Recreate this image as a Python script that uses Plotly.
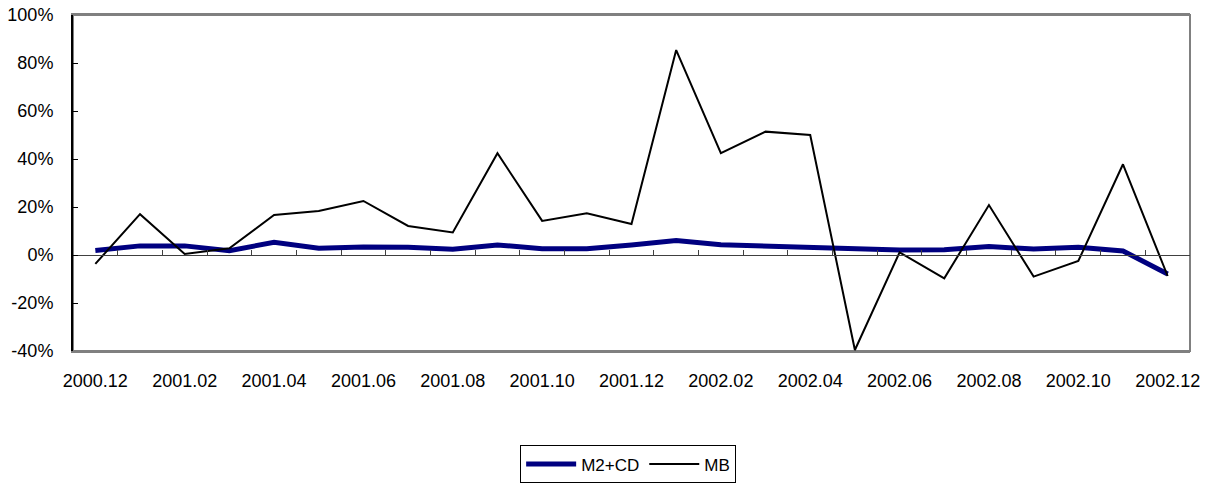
import plotly.graph_objects as go

months = ["2000.12", "2001.01", "2001.02", "2001.03", "2001.04", "2001.05", "2001.06",
          "2001.07", "2001.08", "2001.09", "2001.10", "2001.11", "2001.12",
          "2002.01", "2002.02", "2002.03", "2002.04", "2002.05", "2002.06",
          "2002.07", "2002.08", "2002.09", "2002.10", "2002.11", "2002.12"]
m2cd = [1.9, 3.8, 3.8, 1.8, 5.3, 2.8, 3.3, 3.2, 2.4, 4.2, 2.6, 2.6, 4.2,
        6.0, 4.3, 3.75, 2.8, 2.2, 2.1, 2.2, 3.5, 2.5, 3.2, 1.7, -7.9]
mb = [-3.7, 17.0, 0.4, 2.8, 16.7, 18.3, 22.5, 12.1, 9.4, 42.4, 14.2, 17.4, 12.9,
      85.4, 42.4, 51.4, 50.0, -39.6, 1.1, -9.7, 20.8, -9.0, -2.5, 37.8, -8.75]
tick_labels = months[::2]
y_ticks = [-40, -20, 0, 20, 40, 60, 80, 100]

font = "Liberation Sans, Arial, sans-serif"

fig = go.Figure()
fig.add_trace(go.Scatter(x=months, y=m2cd, name="M2+CD", mode="lines",
                         line=dict(color="#000080", width=5), xaxis="x", yaxis="y"))
fig.add_trace(go.Scatter(x=months, y=mb, name="MB", mode="lines",
                         line=dict(color="#000000", width=2), xaxis="x2", yaxis="y"))

fig.update_layout(
    width=1220, height=483,
    margin=dict(l=73, r=30, t=15, b=132),
    paper_bgcolor="white", plot_bgcolor="white",
    font=dict(family=font, size=18, color="black"),
    showlegend=True,
    legend=dict(orientation="h", x=0.497, xanchor="center",
                yref="container", y=0.078, yanchor="top",
                bordercolor="black", borderwidth=1, bgcolor="white",
                font=dict(family=font, size=17), tracegroupgap=0, itemwidth=50),
    xaxis=dict(type="category", categoryorder="array", categoryarray=months,
               range=[-0.5, len(months) - 0.5], automargin=False,
               tickmode="array", tickvals=tick_labels, ticktext=tick_labels,
               ticks="outside", ticklen=12, tickcolor="rgba(0,0,0,0)",
               showline=True, linecolor="#808080", linewidth=2, mirror=True,
               showgrid=False, zeroline=False),
    xaxis2=dict(type="category", categoryorder="array", categoryarray=months,
                range=[-0.5, len(months) - 0.5], overlaying="x", anchor="free",
                position=(0 - y_ticks[0]) / (y_ticks[-1] - y_ticks[0]),
                side="bottom", showticklabels=False, automargin=False,
                tickson="boundaries", ticks="inside", ticklen=5, tickcolor="#404040",
                showline=True, linecolor="#404040", linewidth=1,
                showgrid=False, zeroline=False),
    yaxis=dict(range=[y_ticks[0], y_ticks[-1]], tickvals=y_ticks,
               ticktext=[f"{v}%" for v in y_ticks], automargin=False,
               ticks="inside", ticklen=5, tickcolor="black",
               ticklabelstandoff=14,
               showline=True, linecolor="black", linewidth=2,
               showgrid=False, zeroline=False),
)
# gray border for top/right
fig.add_shape(type="rect", xref="paper", yref="paper", x0=0, x1=1, y0=0, y1=1,
              line=dict(color="#808080", width=2), layer="below")

fig.write_html("out.html", config={"displayModeBar": False},
               post_script="document.body.style.margin='0';document.body.style.overflow='hidden';")
